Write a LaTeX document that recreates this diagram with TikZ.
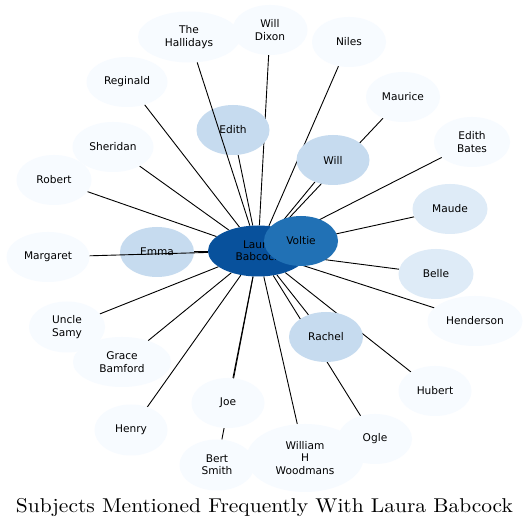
\documentclass[tikz,border=0pt]{standalone}
\usepackage{fontspec}
\usepackage{graphicx}
\usetikzlibrary{shapes.geometric}
\newfontfamily\nodefont{DejaVu Sans}
\newfontfamily\titlefont{lmroman10-regular.otf}
\definecolor{cA}{HTML}{08519C}
\definecolor{cB}{HTML}{2171B5}
\definecolor{cC}{HTML}{C6DBEF}
\definecolor{cD}{HTML}{DEEBF7}
\definecolor{cE}{HTML}{F7FBFF}
\tikzset{
  ent/.style={ellipse, draw=none, inner sep=0pt, align=center,
    font=\nodefont\fontsize{10.6}{12.4}\selectfont, text=black},
  sz/.style 2 args={minimum width=#1pt, minimum height=#2pt},
  link/.style={draw=black, line width=0.9pt},
}
\begin{document}
\begin{tikzpicture}[x=1pt,y=-1pt]
\useasboundingbox[fill=white] (0,0) rectangle (531,529);
\path
 (258,251) coordinate (pLaura)
 (301,241) coordinate (pVoltie)
 (157,252) coordinate (pEmma)
 (233,130) coordinate (pEdith)
 (333,160) coordinate (pWill)
 (326,337) coordinate (pRachel)
 (450,209) coordinate (pMaude)
 (436,274) coordinate (pBelle)
 (48,257) coordinate (pMargaret)
 (54,180) coordinate (pRobert)
 (113,147) coordinate (pSheridan)
 (127,82) coordinate (pReginald)
 (189,37) coordinate (pHallidays)
 (270,30) coordinate (pWillDixon)
 (349,42) coordinate (pNiles)
 (403,97) coordinate (pMaurice)
 (472,142) coordinate (pEdithBates)
 (67,327) coordinate (pUncle)
 (475,321) coordinate (pHenderson)
 (122,362) coordinate (pGrace)
 (435,391) coordinate (pHubert)
 (228,403) coordinate (pJoe)
 (131,430) coordinate (pHenry)
 (375,439) coordinate (pOgle)
 (305,458) coordinate (pWilliam)
 (217,465) coordinate (pBert);
% invisible shape copies for clipping edges
\begin{scope}[every node/.style={ent}]
\node[sz={100}{51}] (laura) at (pLaura) {};
\node[sz={74}{50}] (voltie) at (pVoltie) {};
\node[sz={74}{50}] (emma) at (pEmma) {};
\node[sz={73}{50}] (edith) at (pEdith) {};
\node[sz={73}{50}] (will) at (pWill) {};
\node[sz={74}{50}] (rachel) at (pRachel) {};
\node[sz={75}{50}] (maude) at (pMaude) {};
\node[sz={75}{50}] (belle) at (pBelle) {};
\node[sz={83}{50}] (margaret) at (pMargaret) {};
\node[sz={75}{50}] (robert) at (pRobert) {};
\node[sz={81}{50}] (sheridan) at (pSheridan) {};
\node[sz={81}{50}] (reginald) at (pReginald) {};
\node[sz={102}{51}] (hallidays) at (pHallidays) {};
\node[sz={75}{50}] (willdixon) at (pWillDixon) {};
\node[sz={74}{50}] (niles) at (pNiles) {};
\node[sz={74}{50}] (maurice) at (pMaurice) {};
\node[sz={76}{50}] (edithbates) at (pEdithBates) {};
\node[sz={76}{51}] (uncle) at (pUncle) {};
\node[sz={95}{50}] (henderson) at (pHenderson) {};
\node[sz={98}{50}] (grace) at (pGrace) {};
\node[sz={73}{50}] (hubert) at (pHubert) {};
\node[sz={73}{50}] (joe) at (pJoe) {};
\node[sz={73}{51}] (henry) at (pHenry) {};
\node[sz={74}{50}] (ogle) at (pOgle) {};
\node[sz={117}{68}] (william) at (pWilliam) {};
\node[sz={75}{51}] (bert) at (pBert) {};
\end{scope}
% edges drawn beneath the nodes
\foreach \t in {voltie,emma,edith,will,rachel,maude,belle,robert,sheridan,reginald,
  willdixon,niles,maurice,edithbates,uncle,henderson,grace,hubert,joe,henry,ogle,william,bert}
  {\draw[link] (laura) -- (\t);}
% nodes
\begin{scope}[every node/.style={ent}]
\node[sz={100}{51}, fill=cA] at (pLaura) {Laura\\Babcock};
\node[sz={74}{50}, fill=cB] at (pVoltie) {Voltie};
\node[sz={74}{50}, fill=cC] at (pEmma) {Emma};
\node[sz={73}{50}, fill=cC] at (pEdith) {Edith};
\node[sz={73}{50}, fill=cC] at (pWill) {Will};
\node[sz={74}{50}, fill=cC] at (pRachel) {Rachel};
\node[sz={75}{50}, fill=cD] at (pMaude) {Maude};
\node[sz={75}{50}, fill=cD] at (pBelle) {Belle};
\node[sz={83}{50}, fill=cE] at (pMargaret) {Margaret};
\node[sz={75}{50}, fill=cE] at (pRobert) {Robert};
\node[sz={81}{50}, fill=cE] at (pSheridan) {Sheridan};
\node[sz={81}{50}, fill=cE] at (pReginald) {Reginald};
\node[sz={102}{51}, fill=cE] at (pHallidays) {The\\Hallidays};
\node[sz={75}{50}, fill=cE] at (pWillDixon) {Will\\Dixon};
\node[sz={74}{50}, fill=cE] at (pNiles) {Niles};
\node[sz={74}{50}, fill=cE] at (pMaurice) {Maurice};
\node[sz={76}{50}, fill=cE] at (pEdithBates) {Edith\\Bates};
\node[sz={76}{51}, fill=cE] at (pUncle) {Uncle\\Samy};
\node[sz={95}{50}, fill=cE] at (pHenderson) {Henderson};
\node[sz={98}{50}, fill=cE] at (pGrace) {Grace\\Bamford};
\node[sz={73}{50}, fill=cE] at (pHubert) {Hubert};
\node[sz={73}{50}, fill=cE] at (pJoe) {Joe};
\node[sz={73}{51}, fill=cE] at (pHenry) {Henry};
\node[sz={74}{50}, fill=cE] at (pOgle) {Ogle};
\node[sz={117}{68}, fill=cE] at (pWilliam) {William\\H\\Woodmans};
\node[sz={75}{51}, fill=cE] at (pBert) {Bert\\Smith};
\end{scope}
% edges drawn over the nodes
\draw[link] (laura) -- (margaret);
\draw[link] (laura) -- (hallidays);
% title
\node[inner sep=0pt, anchor=base] (title) at (264.5,512.7)
  {\resizebox{497pt}{\height}{\titlefont\fontsize{20}{24}\selectfont Subjects Mentioned Frequently With Laura Babcock}};
\end{tikzpicture}
\end{document}
